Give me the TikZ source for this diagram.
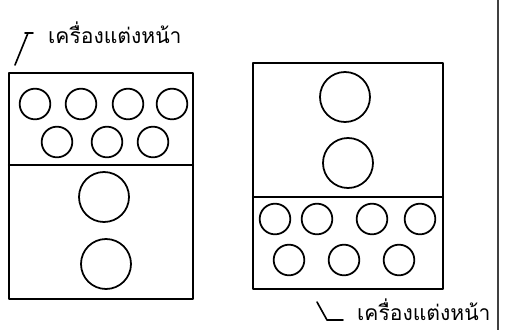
\documentclass[tikz,border=0pt]{standalone}
\usepackage{fontspec}
\newfontfamily\thaifont[Script=Thai]{Loma}
\usetikzlibrary{positioning, calc}

\begin{document}
\begin{tikzpicture}[x=0.03cm, y=-0.03cm, line cap=round, line join=round]
    \tikzset{
		tray/.style={draw, rectangle, line width=1.8pt, inner sep=0pt, outer sep=0pt},
		small/.style={draw, circle, line width=1.5pt, minimum size=0.92cm, inner sep=0pt},
		big/.style={draw, circle, line width=1.5pt, minimum size=1.5cm, inner sep=0pt},
		label/.style={font=\thaifont\fontsize{18}{18}\selectfont, inner sep=0pt, anchor=base west},
		leader/.style={line width=1.4pt}
	}
	\useasboundingbox (0,0) rectangle (519,330);

	% --- Bandeja izquierda ---
	\node [tray, minimum width=5.52cm, minimum height=6.78cm] (trayL) at (101,186) {};
	\coordinate (divL) at (0,165);
	\draw [line width=1.8pt] (trayL.west |- divL) -- (trayL.east |- divL);
	% fila superior
	\node [small] (l1) at (35,104) {};
	\node [small] (l2) at (81,104) {};
	\node [small] (l3) at (128,104) {};
	\node [small] (l4) at (172,104) {};
	% fila inferior
	\node [small] (l5) at (57,142) {};
	\node [small] (l6) at (107,142) {};
	\node [small] (l7) at (153,142) {};
	% circulos grandes
	\node [big] (lb1) at (104,197) {};
	\node [big] (lb2) at (106,264) {};

	% --- Bandeja derecha ---
	\node [tray, minimum width=5.7cm, minimum height=6.78cm] (trayR) at (348,176) {};
	\coordinate (divR) at (0,197);
	\draw [line width=1.8pt] (trayR.west |- divR) -- (trayR.east |- divR);
	\node [big] (rb1) at (345,97) {};
	\node [big] (rb2) at (348,163) {};
	% fila superior
	\node [small] (r1) at (275,219) {};
	\node [small] (r2) at (317,219) {};
	\node [small] (r3) at (372,219) {};
	\node [small] (r4) at (420,219) {};
	% fila inferior
	\node [small] (r5) at (289,260) {};
	\node [small] (r6) at (344,260) {};
	\node [small] (r7) at (399,260) {};

	% --- Etiquetas ---
	\node [label] (topLabel) at (48,43) {เครื่องแต่งหน้า};
	\coordinate (tl_a) at (15,65);
	\coordinate (tl_b) at (28,33);
	\draw [leader] (tl_a) -- (tl_b);
	\draw [leader] (25,33) -- (33,33);

	\node [label] (botLabel) at (357,320) {เครื่องแต่งหน้า};
	\coordinate (bl_a) at (317,302);
	\coordinate (bl_b) at (327,320);
	\coordinate (bl_c) at (343,320);
	\draw [leader] (bl_a) -- (bl_b) -- (bl_c);

	% --- Linea vertical del borde ---
	\coordinate (edgeT) at (498,0);
	\coordinate (edgeB) at (498,330);
	\draw [line width=1.1pt, black!75] (edgeT) -- (edgeB);
\end{tikzpicture}
\end{document}
